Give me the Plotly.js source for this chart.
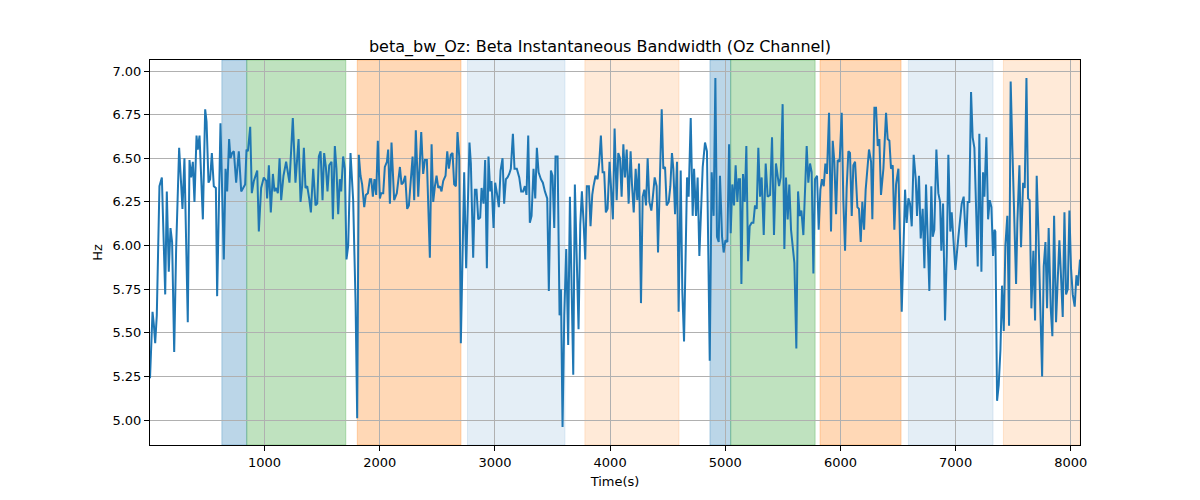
<!DOCTYPE html>
<html>
<head>
<meta charset="utf-8">
<script src="https://cdn.plot.ly/plotly-3.0.1.min.js"></script>
<style>
  body { margin: 0; background: #fff; }
  #myDiv { width: 1200px; height: 500px; }
</style>
</head>
<body>
<div id="myDiv"></div>
<script>
// time stamps (s)
var tempo = [
  5, 27, 38, 50, 64, 87, 108, 137, 151, 168, 183, 197, 215, 232, 258, 287, 304, 333, 348, 362,
  377, 391, 409, 420, 435, 464, 484, 496, 513, 527, 542, 559, 577, 588, 617, 646, 661, 675, 692, 704,
  718, 733, 753, 776, 797, 817, 831, 843, 855, 875, 889, 907, 936, 950, 970, 993, 1014, 1022, 1037, 1054,
  1072, 1086, 1101, 1115, 1130, 1144, 1164, 1187, 1202, 1216, 1245, 1268, 1295, 1312, 1326, 1341, 1355,
  1370, 1387, 1402, 1422, 1442, 1457, 1471, 1486, 1503, 1517, 1532, 1546, 1561, 1581, 1593, 1610, 1624, 1639,
  1653, 1665, 1682, 1697, 1711, 1726, 1746, 1769, 1790, 1804, 1818, 1833, 1847, 1865, 1879, 1897, 1914, 1926,
  1940, 1954, 1969, 1983, 2001, 2012, 2030, 2044, 2062, 2073, 2088, 2102, 2125, 2148, 2175, 2189, 2203, 2221,
  2238, 2253, 2273, 2285, 2299, 2313, 2334, 2360, 2377, 2392, 2409, 2421, 2435, 2450, 2464, 2479, 2493, 2508,
  2522, 2536, 2551, 2571, 2586, 2600, 2617, 2632, 2646, 2661, 2675, 2690,
  2704, 2733, 2750, 2779, 2791, 2811, 2826, 2840, 2855, 2872, 2884, 2901, 2915, 2930, 2944, 2959, 2970, 2988,
  3002, 3017, 3034, 3049, 3066, 3080, 3095, 3109, 3124, 3138, 3156, 3170, 3190, 3211, 3228, 3245, 3260, 3274,
  3289, 3303, 3318, 3335, 3350, 3364, 3379, 3399, 3416, 3434, 3454, 3468, 3486, 3500, 3515, 3526, 3544, 3561,
  3573, 3587, 3602, 3619, 3636, 3651, 3665, 3680, 3694, 3712, 3726, 3741, 3755, 3770, 3784, 3798, 3816, 3830,
  3845, 3856, 3874, 3891, 3906, 3920, 3935, 3949, 3963, 3978, 3995, 4010, 4024, 4039,
  4057, 4071, 4086, 4100, 4115, 4129, 4144, 4161, 4178, 4190, 4205, 4222, 4236, 4251, 4268, 4283, 4297, 4312,
  4326, 4341, 4358, 4370, 4387, 4404, 4416, 4430, 4448, 4462, 4477, 4491, 4509, 4523, 4537, 4549, 4564, 4581,
  4595, 4613, 4627, 4642, 4668, 4682, 4700, 4717, 4729, 4746, 4760, 4775, 4804, 4824, 4841, 4865, 4882, 4899,
  4914, 4928, 4943, 4954, 4972, 4986, 5001, 5018, 5033, 5047, 5061, 5076, 5090, 5105, 5116, 5128, 5140, 5154,
  5169, 5183, 5198, 5212, 5229, 5244, 5258, 5273, 5287, 5302, 5316, 5334, 5351, 5368, 5389,
  5406, 5423, 5440, 5455, 5467, 5481, 5498, 5513, 5527, 5542, 5556, 5571, 5600, 5617, 5632, 5646, 5661, 5678,
  5692, 5707, 5721, 5736, 5750, 5765, 5779, 5797, 5811, 5826, 5840, 5855, 5869, 5883, 5901, 5918, 5933, 5947,
  5962, 5976, 5993, 6011, 6025, 6040, 6054, 6069, 6083, 6098, 6112, 6127, 6147, 6161, 6176, 6190, 6205, 6219,
  6248, 6266, 6277, 6295, 6309, 6324, 6338, 6352, 6373, 6396, 6410, 6425, 6439, 6454, 6468, 6483, 6503, 6517,
  6532, 6561, 6575, 6590, 6604, 6619, 6636, 6654, 6665, 6682, 6697, 6714, 6729,
  6743, 6755, 6772, 6789, 6801, 6815, 6833, 6850, 6865, 6876, 6891, 6908, 6923, 6937, 6954, 6966, 6998, 7024,
  7053, 7070, 7091, 7105, 7119, 7134, 7148, 7163, 7177, 7192, 7206, 7224, 7238, 7250, 7267, 7282, 7296, 7311,
  7325, 7337, 7345, 7360, 7374, 7389, 7403, 7418, 7432, 7449, 7464, 7478, 7493, 7507, 7525, 7536, 7554, 7568,
  7586, 7600, 7615, 7629, 7643, 7658, 7675, 7690, 7704, 7719, 7733, 7751, 7765, 7780, 7794, 7808, 7826, 7840,
  7855, 7872, 7887, 7901, 7916, 7930, 7945, 7959, 7974, 7988, 8002, 8017, 8034, 8049, 8063, 8080
];

// beta bandwidth (Hz)
var valor = [
  5.24, 5.62, 5.55, 5.44, 5.60, 6.34, 6.39, 5.72, 6.31, 5.85, 6.10, 6.02, 5.39, 5.98, 6.56, 6.21, 6.50, 5.56, 6.49, 6.39,
  6.48, 6.25, 6.63, 6.55, 6.63, 6.15, 6.78, 6.71, 6.36, 6.38, 6.53, 6.34, 6.33, 5.71, 6.70, 5.92, 6.44, 6.31, 6.61, 6.50,
  6.53, 6.54, 6.36, 6.54, 6.31, 6.33, 6.35, 6.55, 6.54, 6.68, 6.30, 6.37, 6.43, 6.08, 6.33, 6.39, 6.37, 6.27, 6.46, 6.19,
  6.41, 6.31, 6.33, 6.30, 6.50, 6.26, 6.40, 6.48, 6.41, 6.36, 6.73, 6.36, 6.61, 6.25, 6.34, 6.56, 6.33,
  6.34, 6.27, 6.19, 6.44, 6.23, 6.24, 6.51, 6.54, 6.26, 6.53, 6.45, 6.31, 6.46, 6.48, 6.15, 6.57, 6.44, 6.18,
  6.38, 6.31, 6.51, 6.44, 5.92, 6.00, 6.53, 6.26, 5.67, 5.01, 6.52, 6.40, 6.35, 6.22, 6.29, 6.30, 6.38, 6.38,
  6.28, 6.38, 6.29, 6.60, 6.27, 6.30, 6.30, 6.45, 6.48, 6.55, 6.24, 6.59, 6.26, 6.30, 6.45, 6.35, 6.36, 6.40,
  6.21, 6.23, 6.42, 6.51, 6.26, 6.66, 6.28, 6.65, 6.41, 6.49, 6.49, 6.26, 5.93, 6.58, 6.25, 6.34, 6.40, 6.33,
  6.34, 6.31, 6.37, 6.40, 6.54, 6.44, 6.52, 6.53, 6.35, 6.34, 6.65, 6.51,
  5.44, 6.42, 5.87, 6.59, 6.47, 5.93, 6.32, 6.32, 6.15, 6.16, 6.33, 6.24, 6.49, 5.87, 6.51, 6.31, 6.37, 6.10,
  6.36, 6.30, 6.22, 6.43, 6.50, 6.24, 6.38, 6.39, 6.41, 6.44, 6.64, 6.44, 6.44, 6.39, 6.31, 6.31, 6.34, 6.29,
  6.63, 6.13, 6.17, 6.44, 6.27, 6.56, 6.42, 6.38, 6.36, 6.31, 6.27, 5.74, 6.43, 6.40, 6.10, 6.51, 6.51, 5.60,
  5.75, 4.96, 5.60, 5.98, 5.43, 6.28, 5.73, 5.26, 6.35, 5.90, 5.52, 6.12, 6.31, 6.13, 5.92, 6.34, 6.34, 6.11,
  6.29, 6.34, 6.40, 6.38, 6.48, 6.63, 6.42, 6.42, 6.19, 6.21, 6.48, 6.31, 6.15, 6.67,
  6.26, 6.53, 6.50, 6.28, 6.58, 6.39, 6.55, 6.24, 6.54, 6.35, 6.19, 6.44, 6.26, 6.47, 5.67, 6.28, 6.32, 6.23,
  6.50, 6.25, 6.20, 6.27, 6.39, 6.34, 5.96, 6.32, 6.78, 6.44, 6.45, 6.23, 6.25, 6.34, 6.53, 6.44, 6.18, 6.48,
  5.62, 6.43, 5.74, 5.45, 6.39, 6.28, 6.73, 6.17, 6.44, 6.17, 6.39, 5.94, 6.45, 6.59, 6.54, 5.34, 6.42, 6.17,
  6.96, 6.05, 6.02, 6.40, 6.05, 5.96, 6.03, 6.02, 6.58, 6.07, 6.35, 6.23, 6.46, 6.25, 6.38, 6.38, 5.78, 6.41,
  6.25, 6.57, 5.91, 6.11, 6.13, 6.13, 6.23, 6.21, 6.56, 6.28, 6.39, 6.06, 6.47, 6.28, 6.29,
  6.62, 6.06, 6.47, 6.38, 6.34, 6.39, 6.81, 5.98, 6.39, 6.15, 6.35, 6.09, 5.90, 5.41, 6.31, 6.17, 6.20, 6.06,
  6.36, 6.57, 6.36, 6.47, 6.42, 5.84, 6.38, 6.40, 6.09, 6.32, 6.38, 6.34, 6.47, 6.41, 6.76, 6.08, 6.60, 6.48,
  6.18, 6.49, 6.48, 6.76, 6.26, 5.97, 6.33, 6.54, 6.53, 6.17, 6.46, 6.48, 6.22, 6.21, 6.02, 6.25, 6.09, 6.32,
  6.55, 6.48, 6.15, 6.79, 6.79, 6.57, 6.61, 6.29, 6.44, 6.76, 6.61, 6.60, 6.44, 6.46, 6.09, 6.35, 6.44, 6.03,
  5.62, 6.32, 6.13, 6.27, 6.24, 6.11, 6.52, 6.38, 6.17, 6.40, 6.04, 6.21, 5.87,
  6.35, 6.04, 5.74, 6.34, 6.05, 6.09, 6.55, 6.30, 6.25, 5.97, 6.24, 5.57, 5.94, 6.52, 6.08, 6.19, 5.86, 6.05,
  6.24, 6.28, 5.99, 6.25, 6.25, 6.88, 6.62, 6.56, 6.22, 5.88, 6.64, 5.85, 6.42, 6.28, 6.62, 6.15, 6.26, 6.22,
  5.94, 6.09, 6.08, 5.11, 5.20, 5.40, 5.77, 5.51, 6.00, 6.17, 5.54, 6.94, 6.55, 6.20, 5.78, 6.13, 6.46, 5.99,
  6.36, 6.33, 6.96, 6.27, 6.26, 5.64, 5.97, 5.57, 6.40, 6.07, 5.77, 5.25, 5.88, 6.02, 5.64, 6.10, 5.64, 5.48,
  6.17, 5.56, 5.81, 6.03, 5.81, 5.59, 6.19, 5.72, 5.75, 6.20, 5.87, 5.72, 5.65, 5.83, 5.77, 5.92
];

// faixas sombreadas (segmentos)
var faixaInicio = [629, 845, 1805, 2762, 3781, 4867, 5047, 5823, 6590, 7415];
var faixaFim    = [845, 1705, 2705, 3608, 4598, 5047, 5780, 6526, 7325, 8080];
var faixaCor = [
  "rgba(31,119,180,0.3)", "rgba(44,160,44,0.3)", "rgba(255,127,14,0.3)",
  "rgba(31,119,180,0.12)", "rgba(255,127,14,0.16)",
  "rgba(31,119,180,0.3)", "rgba(44,160,44,0.3)", "rgba(255,127,14,0.3)",
  "rgba(31,119,180,0.12)", "rgba(255,127,14,0.16)"
];

var ticksY = [5.00, 5.25, 5.50, 5.75, 6.00, 6.25, 6.50, 6.75, 7.00];
var ticksX = [1000, 2000, 3000, 4000, 5000, 6000, 7000, 8000];

function lineChart(periodo, valores, titulo) {
  var shapes = [];
  for (var i = 0; i < faixaInicio.length; i++) {
    // borda da mesma cor, como o axvspan do matplotlib
    shapes.push({
      type: 'rect', xref: 'x', yref: 'paper',
      x0: faixaInicio[i], x1: faixaFim[i], y0: 0, y1: 1,
      fillcolor: faixaCor[i], line: { width: 1, color: faixaCor[i] }, layer: 'below'
    });
  }

  var trace1 = {
    x: periodo,
    y: valores,
    type: 'scatter',
    mode: 'lines',
    line: { color: '#1f77b4', width: 2 },
    hoverinfo: 'x+y'
  };

  var eixo = {
    showline: true, linecolor: '#000', linewidth: 1, mirror: true,
    ticks: 'outside', ticklen: 5, tickwidth: 1, tickcolor: '#000',
    showgrid: true, gridcolor: '#b0b0b0', gridwidth: 1,
    zeroline: false,
    tickfont: { size: 13, color: '#000' }
  };

  var layout = {
    width: 1200,
    height: 500,
    margin: { l: 150, r: 120, t: 60, b: 55 },
    paper_bgcolor: '#fff',
    plot_bgcolor: '#fff',
    font: { family: 'DejaVu Sans, sans-serif', color: '#000' },
    showlegend: false,
    title: { text: titulo, font: { size: 16 }, x: 0.5, xanchor: 'center', y: 0.908, yanchor: 'middle' },
    xaxis: Object.assign({}, eixo, {
      range: [5, 8080],
      tickvals: ticksX,
      title: { text: 'Time(s)', font: { size: 13 }, standoff: 8 }
    }),
    yaxis: Object.assign({}, eixo, {
      range: [4.857, 7.063],
      tickvals: ticksY,
      tickformat: '.2f',
      title: { text: 'Hz', font: { size: 13 }, standoff: 6 }
    }),
    shapes: shapes
  };

  Plotly.newPlot('myDiv', [trace1], layout, { staticPlot: true });
}

lineChart(tempo, valor, 'beta_bw_Oz: Beta Instantaneous Bandwidth (Oz Channel)');
</script>
</body>
</html>
